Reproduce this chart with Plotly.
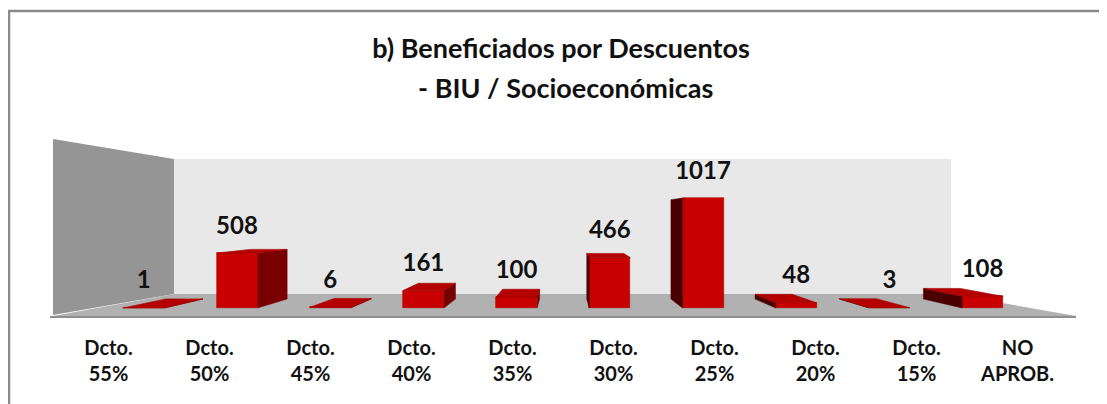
import plotly.graph_objects as go

# ---------------- data ----------------
categories = ["Dcto.<br>55%", "Dcto.<br>50%", "Dcto.<br>45%", "Dcto.<br>40%", "Dcto.<br>35%",
              "Dcto.<br>30%", "Dcto.<br>25%", "Dcto.<br>20%", "Dcto.<br>15%", "NO<br>APROB."]
values = [1, 508, 6, 161, 100, 466, 1017, 48, 3, 108]
title_line1 = "b) Beneficiados por Descuentos"
title_line2 = "- BIU / Socioeconómicas"

# ---------------- layout constants (page pixels) ----------------
PAGE_W, PAGE_H = 1107, 404
OFF = 8                      # default body margin of the html page
FW, FH = PAGE_W - OFF, PAGE_H - OFF
FONT = "Lato"


def px(x):
    return (x - OFF) / FW


def py(y):
    return 1 - (y - OFF) / FH


# bar axis: category centers at page pixel 143.8 + 93.2*i ; value 0 at page y=308, 9.25 units/px
BAR_X0, BAR_DX = 143.8, 93.2
Y0_PX, UNITS_PER_PX = 308, 9.25
x_range = [(OFF - BAR_X0) / BAR_DX, (PAGE_W - BAR_X0) / BAR_DX]
y_range = [-(PAGE_H - Y0_PX) * UNITS_PER_PX, (Y0_PX - OFF) * UNITS_PER_PX]

# pseudo-3D depth projection (data units)
VX = 4.5            # vanishing x (category units)
VY = 860            # vanishing y (value units)
K = 0.903           # depth scale of back face
HW = 0.22           # half width of bar


def back(x, y):
    return VX + K * (x - VX), VY + K * (y - VY)


FRONT = "#c80000"
TOP = "#b40000"
SIDE_R = "#780000"
SIDE_L = "#4a0000"

fig = go.Figure()

# side & top faces computed from the data values
for i, v in enumerate(values):
    L, R = i - HW, i + HW
    if i < VX:
        xe, col = R, SIDE_R
    else:
        xe, col = L, SIDE_L
    bx0, by0 = back(xe, 0)
    bx1, by1 = back(xe, v)
    fig.add_trace(go.Scatter(
        x=[xe, xe, bx1, bx0, xe], y=[0, v, by1, by0, 0],
        fill="toself", fillcolor=col, mode="lines",
        line=dict(color=col, width=0.5), hoverinfo="skip", showlegend=False,
        xaxis="x", yaxis="y"))
    if v < VY:
        blx, bly = back(L, v)
        brx, bry = back(R, v)
        fig.add_trace(go.Scatter(
            x=[L, R, brx, blx, L], y=[v, v, bry, bly, v],
            fill="toself", fillcolor=TOP, mode="lines",
            line=dict(color="#a00000", width=0.6), hoverinfo="skip", showlegend=False,
            xaxis="x", yaxis="y"))

# front faces
fig.add_trace(go.Bar(
    x=list(range(len(values))), y=values, width=2 * HW,
    marker=dict(color=FRONT, line=dict(color="#b00000", width=0.6)),
    hoverinfo="skip", showlegend=False, xaxis="x", yaxis="y"))

# value labels
LABEL_OFFSET = 25.5 * UNITS_PER_PX
fig.add_trace(go.Scatter(
    x=list(range(len(values))), y=[v + LABEL_OFFSET for v in values],
    mode="text", text=[f"<b>{v}</b>" for v in values],
    textposition="middle center",
    textfont=dict(family=FONT, size=24, color="#111111"),
    hoverinfo="skip", showlegend=False, xaxis="x", yaxis="y"))

# invisible trace carrying the category axis
fig.add_trace(go.Scatter(
    x=categories, y=[5] * len(categories), mode="markers",
    marker=dict(opacity=0), hoverinfo="skip", showlegend=False,
    xaxis="x2", yaxis="y2"))


# ---------------- decoration: 3D walls / floor / border ----------------
def path(points):
    return "M " + " L ".join(f"{px(x)},{py(y)}" for x, y in points) + " Z"


shapes = [
    dict(type="path", xref="paper", yref="paper", layer="below",
         path=path([(174, 159), (951, 159), (951, 294), (174, 294)]),
         fillcolor="#e8e8e8", line=dict(width=0)),
    dict(type="path", xref="paper", yref="paper", layer="below",
         path=path([(53, 139), (174, 159), (174, 294), (53, 315)]),
         fillcolor="#959595", line=dict(width=0)),
    dict(type="path", xref="paper", yref="paper", layer="below",
         path=path([(174, 294), (951, 294), (1076, 316), (53, 316)]),
         fillcolor="#b1b1b1", line=dict(width=0)),
    dict(type="line", xref="paper", yref="paper", layer="below",
         x0=px(50), x1=px(1076), y0=py(317), y1=py(317),
         line=dict(color="#8e8e8e", width=2)),
    # outer border (left & top)
    dict(type="line", xref="paper", yref="paper", layer="above",
         x0=px(9), x1=px(9), y0=py(10), y1=py(PAGE_H + 5),
         line=dict(color="#8a8a8a", width=2.5)),
    dict(type="line", xref="paper", yref="paper", layer="above",
         x0=px(8), x1=px(PAGE_W + 5), y0=py(11), y1=py(11),
         line=dict(color="#8a8a8a", width=2.5)),
]

fig.update_layout(
    width=FW, height=FH,
    margin=dict(l=0, r=0, t=0, b=0, autoexpand=False),
    paper_bgcolor="white", plot_bgcolor="rgba(0,0,0,0)",
    showlegend=False,
    shapes=shapes,
    bargap=0,
    title=dict(text=f"<b>{title_line1}</b>", x=px(561), y=py(49),
               xanchor="center", yanchor="middle",
               font=dict(family=FONT, size=27, color="#111111")),
    annotations=[dict(text=f"<b>{title_line2}</b>", xref="paper", yref="paper",
                      x=px(565), y=py(88), xanchor="center", yanchor="middle",
                      showarrow=False, font=dict(family=FONT, size=27, color="#111111"))],
    xaxis=dict(domain=[0, 1], range=x_range, visible=False, fixedrange=True),
    yaxis=dict(domain=[0, 1], range=y_range, visible=False, fixedrange=True),
    xaxis2=dict(domain=[px(58), px(1068)], anchor="y2", type="category",
                categoryorder="array", categoryarray=categories,
                range=[-0.5, len(categories) - 0.5],
                showline=False, showgrid=False, zeroline=False, ticks="",
                tickfont=dict(family=FONT, size=20, color="#111111"),
                tickprefix="<b>", ticksuffix="</b>", fixedrange=True),
    yaxis2=dict(domain=[py(334), py(300)], anchor="x2", range=[0, 1], visible=False,
                fixedrange=True),
)

fig.write_html("out.html")
